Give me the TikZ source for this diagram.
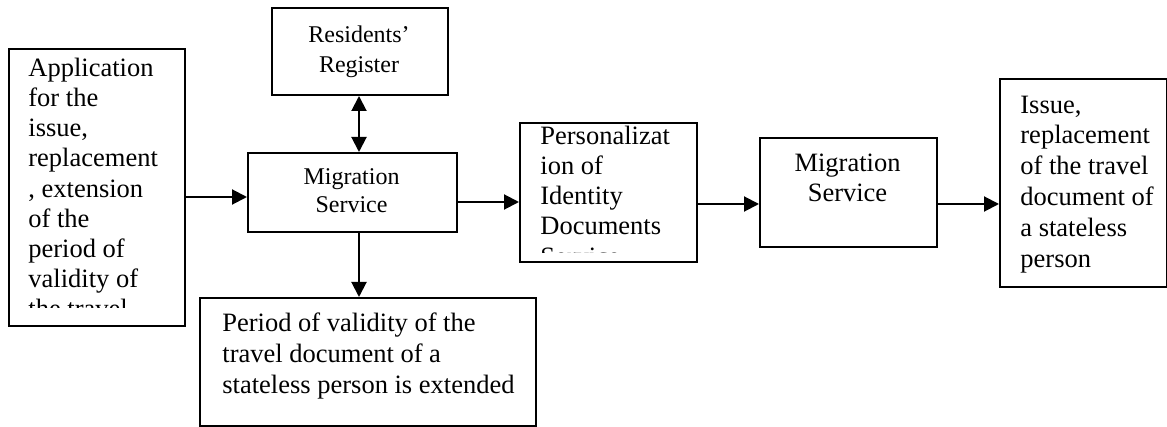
\documentclass[tikz,border=0pt]{standalone}
\usepackage{fontspec}
\setmainfont{Liberation Serif}
\usetikzlibrary{arrows.meta}
\begin{document}
\begin{tikzpicture}[x=0.5pt,y=-0.5pt,
  box/.style={draw, line width=1pt, inner sep=0pt, anchor=north west},
  tip/.tip={Triangle[length=7.5pt,width=7.5pt]},
  arr/.style={line width=1pt, -tip},
  darr/.style={line width=1pt, tip-tip},
  big/.style={font=\fontsize{13.25}{15}\selectfont, inner sep=0pt},
  bigb/.style={font=\fontsize{13.25}{15.5}\selectfont, inner sep=0pt},
  small/.style={font=\fontsize{12}{14}\selectfont, inner sep=0pt},
  smallr/.style={font=\fontsize{12}{15}\selectfont, inner sep=0pt}]
\useasboundingbox (0,0) rectangle (1167,427);

% boxes
\node[box, minimum width=88pt, minimum height=138.5pt] (A) at (8,48) {};
\node[box, minimum width=88pt, minimum height=43.5pt] (R) at (271,7) {};
\node[box, minimum width=104.5pt, minimum height=39.5pt] (M1) at (247,152) {};
\node[box, minimum width=168pt, minimum height=64pt] (B) at (199,297) {};
\node[box, minimum width=88.5pt, minimum height=69.5pt] (P) at (519,122) {};
\node[box, minimum width=88.5pt, minimum height=54.5pt] (M2) at (759,137) {};
\node[box, minimum width=83.5pt, minimum height=104pt] (I) at (999,78) {};

% texts (base anchor = baseline of the last line)
\begin{scope}
  \clip (10,50) rectangle (182,308);
  \node[big, align=left, anchor=base west] (At) at (28,347)
    {Application\\for the\\issue,\\replacement\\, extension\\of the\\period of\\validity of\\the travel\\document};
\end{scope}
\node[smallr, align=center, anchor=base] (Rt) at (359,73) {Residents’\\Register};
\node[small, align=center, anchor=base] (M1t) at (351.5,213) {Migration\\Service};
\node[bigb, align=left, anchor=base west] (Bt) at (222,393)
  {Period of validity of the\\travel document of a\\stateless person is extended};
\begin{scope}
  \clip (521,124) rectangle (694,253);
  \node[big, align=left, anchor=base west] (Pt) at (540,265)
    {Personalizat\\ion of\\Identity\\Documents\\Service};
\end{scope}
\node[big, align=center, anchor=base] (M2t) at (847.5,202) {Migration\\Service};
\node[bigb, align=left, anchor=base west] (It) at (1020,268)
  {Issue,\\replacement\\of the travel\\document of\\a stateless\\person};

% connector levels
\coordinate (yA) at (0,197);
\coordinate (yM) at (0,202);
\coordinate (yP) at (0,204);
\coordinate (xR) at (359,0);

\draw[arr] (A.east |- yA) -- (M1.west |- yA);
\draw[darr] (xR |- R.south) -- (xR |- M1.north);
\draw[arr] (xR |- M1.south) -- (xR |- B.north);
\draw[arr] (M1.east |- yM) -- (P.west |- yM);
\draw[arr] (P.east |- yP) -- (M2.west |- yP);
\draw[arr] (M2.east |- yP) -- (I.west |- yP);
\end{tikzpicture}
\end{document}
